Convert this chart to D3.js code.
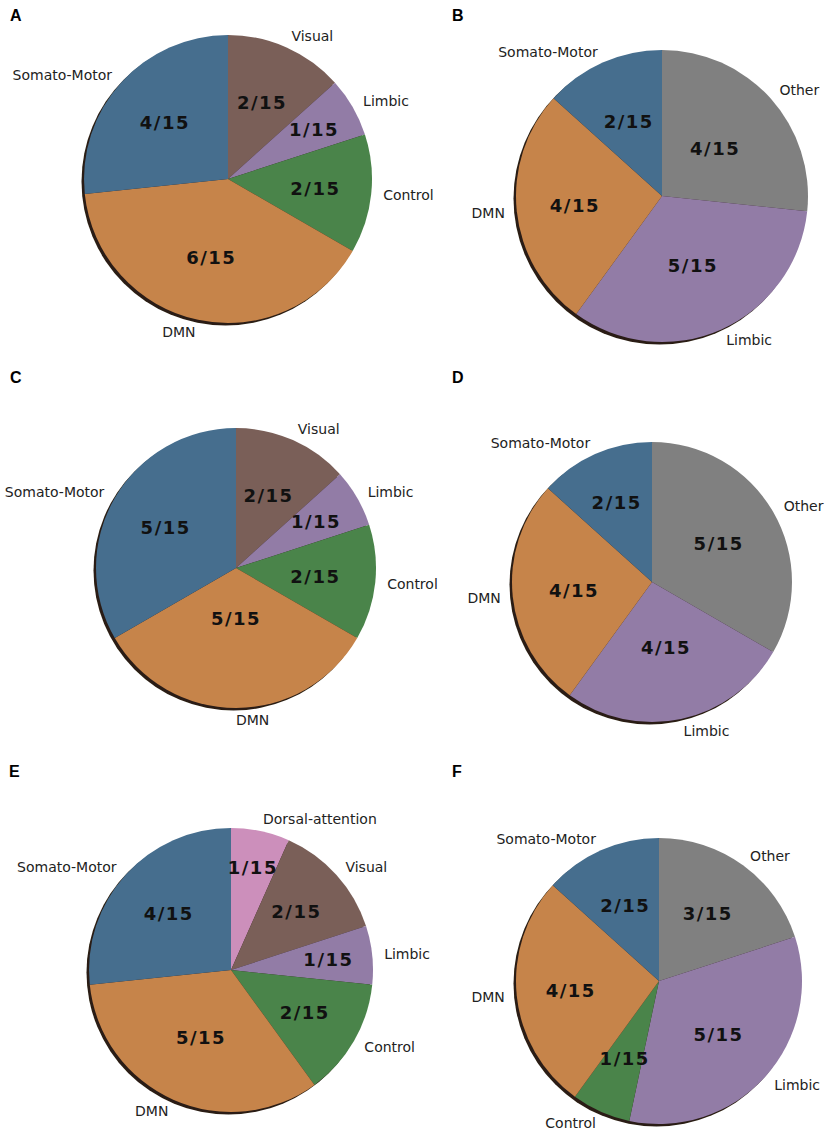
<!DOCTYPE html>
<html>
<head>
<meta charset="utf-8">
<script src="https://cdn.jsdelivr.net/npm/d3@7"></script>
<style>
    body { margin: 0; background: #ffffff; }
    svg { display: block; }
</style>
</head>
<body>
<div class="chart-networks"></div>
<script>
// slices go clockwise from 12 o'clock, each out of 15 regions
let total = 15;

let categoriesA = ['Visual', 'Limbic', 'Control', 'DMN', 'Somato-Motor'];
let valuesA = [2, 1, 2, 6, 4];

let categoriesB = ['Other', 'Limbic', 'DMN', 'Somato-Motor'];
let valuesB = [4, 5, 4, 2];

let categoriesC = ['Visual', 'Limbic', 'Control', 'DMN', 'Somato-Motor'];
let valuesC = [2, 1, 2, 5, 5];

let categoriesD = ['Other', 'Limbic', 'DMN', 'Somato-Motor'];
let valuesD = [5, 4, 4, 2];

let categoriesE = ['Dorsal-attention', 'Visual', 'Limbic', 'Control', 'DMN', 'Somato-Motor'];
let valuesE = [1, 2, 1, 2, 5, 4];

let categoriesF = ['Other', 'Limbic', 'Control', 'DMN', 'Somato-Motor'];
let valuesF = [3, 5, 1, 4, 2];

let networkColors = {
    'Somato-Motor': '#466e8e',
    'Visual': '#7a5f58',
    'Limbic': '#927ca6',
    'Control': '#4a844a',
    'DMN': '#c6844a',
    'Other': '#808080',
    'Dorsal-attention': '#cc8fbb'
};

// panel layout (centre, radius, how far out the fraction label sits)
let panels = [
    {letter: 'A', lx: 10, ly: 21, cx: 228, cy: 179, r: 144, cats: categoriesA, vals: valuesA, labelR: [0.58, 0.69, 0.61, 0.56, 0.59]},
    {letter: 'B', lx: 452, ly: 21, cx: 662, cy: 196, r: 146, cats: categoriesB, vals: valuesB, labelR: [0.49, 0.52, 0.6, 0.56]},
    {letter: 'C', lx: 10, ly: 383, cx: 236, cy: 568, r: 140, cats: categoriesC, vals: valuesC, labelR: [0.57, 0.66, 0.57, 0.36, 0.58]},
    {letter: 'D', lx: 452, ly: 383, cx: 652, cy: 582, r: 140, cats: categoriesD, vals: valuesD, labelR: [0.55, 0.48, 0.56, 0.62]},
    {letter: 'E', lx: 9, ly: 777, cx: 231, cy: 970, r: 142, cats: categoriesE, vals: valuesE, labelR: [0.74, 0.62, 0.69, 0.6, 0.52, 0.59]},
    {letter: 'F', lx: 452, ly: 777, cx: 659, cy: 981, r: 143, cats: categoriesF, vals: valuesF, labelR: [0.58, 0.56, 0.59, 0.62, 0.58]}
];

let svg = d3.select('.chart-networks').append('svg')
    .attr('width', 829)
    .attr('height', 1142);

let defs = svg.append('defs');
defs.append('filter')
    .attr('id', 'soften')
    .attr('x', '-10%').attr('y', '-10%')
    .attr('width', '120%').attr('height', '120%')
    .append('feGaussianBlur')
    .attr('stdDeviation', 0.7);

panels.forEach(function(p) { drawPie(p); });

function drawPie(p) {
    // panel letter
    svg.append('text')
        .text(p.letter)
        .attr('x', p.lx)
        .attr('y', p.ly)
        .attr('font-family', 'Liberation Sans, Arial, sans-serif')
        .attr('font-weight', 'bold')
        .attr('font-size', 16)
        .attr('fill', '#000');

    let chartData = p.cats.map(function(c, i) {
        return {name: c, value: p.vals[i], labelR: p.labelR[i]};
    });

    let pie = d3.pie()
        .sort(null)
        .value(function(d) { return d.value; });

    let arcs = pie(chartData);

    let g = svg.append('g')
        .attr('transform', 'translate(' + p.cx + ',' + p.cy + ')');

    // dark rim shadow towards lower left
    g.append('circle')
        .attr('cx', -2.5)
        .attr('cy', 2.5)
        .attr('r', p.r)
        .attr('fill', '#2a1f12')
        .attr('filter', 'url(#soften)');

    let arc = d3.arc()
        .innerRadius(0)
        .outerRadius(p.r);

    g.selectAll('.slice')
        .data(arcs)
        .enter().append('path')
        .attr('class', 'slice')
        .attr('d', arc)
        .attr('fill', function(d) { return networkColors[d.data.name]; });

    // fraction labels inside the slices
    g.selectAll('.frac')
        .data(arcs)
        .enter().append('text')
        .attr('class', 'frac')
        .text(function(d) { return d.data.value + '/' + total; })
        .attr('transform', function(d) {
            let rr = p.r * d.data.labelR;
            let c = d3.arc().innerRadius(rr).outerRadius(rr).centroid(d);
            return 'translate(' + c[0] + ',' + c[1] + ')';
        })
        .attr('text-anchor', 'middle')
        .attr('dominant-baseline', 'central')
        .attr('font-family', 'DejaVu Sans, Verdana, sans-serif')
        .attr('font-weight', 'bold')
        .attr('font-size', 18)
        .attr('letter-spacing', 1.5)
        .attr('fill', '#111');

    // network names just outside the rim
    g.selectAll('.name')
        .data(arcs)
        .enter().append('text')
        .attr('class', 'name')
        .text(function(d) { return d.data.name; })
        .attr('transform', function(d) {
            let rr = p.r + 12;
            let c = d3.arc().innerRadius(rr).outerRadius(rr).centroid(d);
            return 'translate(' + c[0] + ',' + c[1] + ')';
        })
        .attr('text-anchor', function(d) {
            let mid = (d.startAngle + d.endAngle) / 2;
            return Math.sin(mid) > -1e-6 ? 'start' : 'end';
        })
        .attr('dominant-baseline', 'central')
        .attr('font-family', 'DejaVu Sans, Verdana, sans-serif')
        .attr('font-size', 14)
        .attr('fill', '#222');
}
</script>
</body>
</html>
